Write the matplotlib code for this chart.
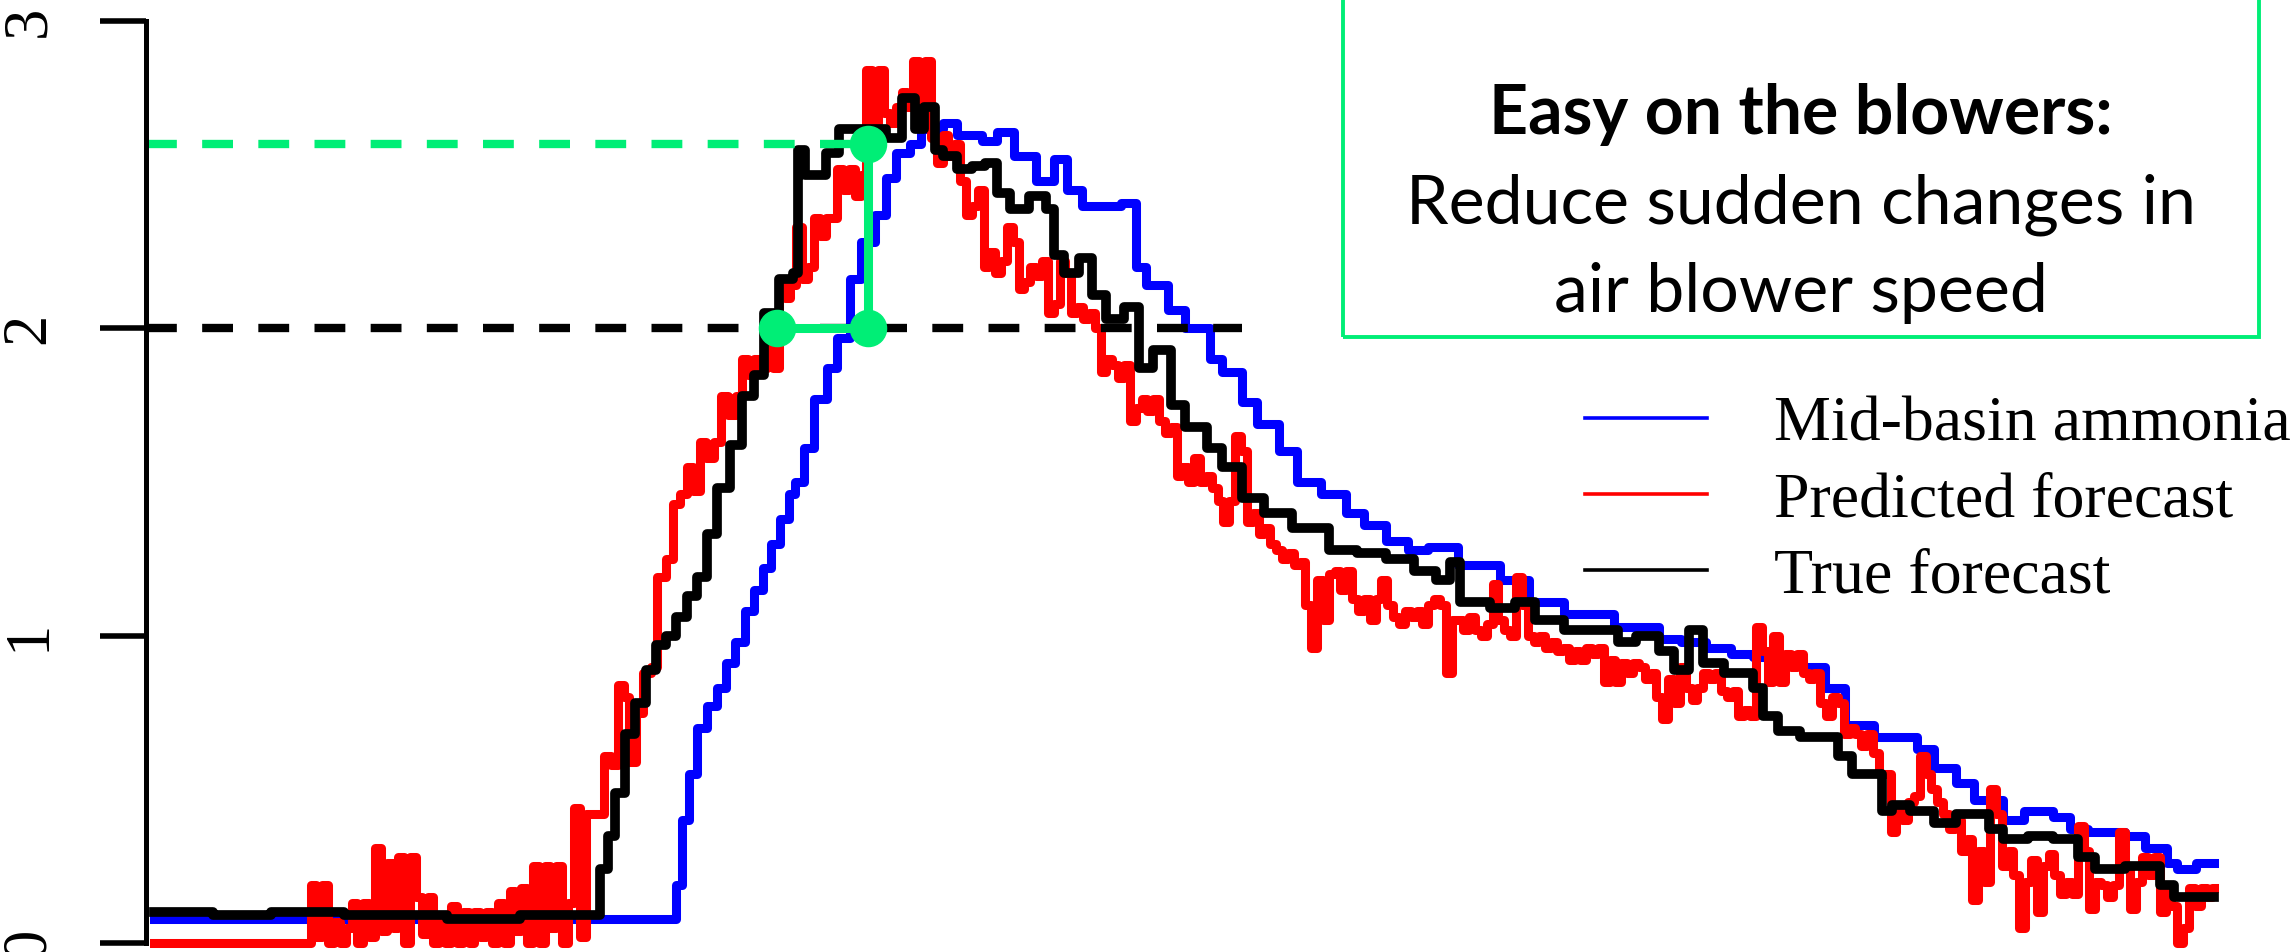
import matplotlib
matplotlib.use("Agg")
import matplotlib.pyplot as plt
from matplotlib.patches import Rectangle

# time index (samples) and ammonia level
blue_t = [0, 354, 357, 361, 366, 371, 378, 385, 391, 397, 404, 410, 416, 422, 428, 434,
          438, 444, 451, 460, 467, 476, 483, 493, 500, 507, 517, 524, 539, 549, 566, 576,
          588, 603, 615, 624, 634, 661, 671, 678, 693, 705, 722, 730, 744, 754, 769, 781,
          798, 815, 827, 842, 857, 871, 891, 920, 940, 964, 998, 1029, 1044, 1061, 1078,
          1093, 1110, 1127, 1142, 1156, 1176, 1205, 1217, 1232, 1244, 1264, 1278, 1298,
          1310, 1322, 1347, 1361, 1376, 1383, 1396, 1408]
blue_v = [0.08, 0.08, 0.19, 0.40, 0.55, 0.70, 0.77, 0.83, 0.91, 0.98, 1.08, 1.15, 1.22,
          1.30, 1.38, 1.46, 1.50, 1.61, 1.77, 1.87, 1.97, 2.16, 2.28, 2.37, 2.49, 2.57,
          2.60, 2.65, 2.67, 2.63, 2.61, 2.64, 2.56, 2.48, 2.55, 2.45, 2.40, 2.41, 2.20,
          2.14, 2.06, 2.00, 1.90, 1.86, 1.76, 1.69, 1.60, 1.50, 1.46, 1.40, 1.36, 1.31,
          1.28, 1.29, 1.23, 1.18, 1.11, 1.07, 1.03, 0.99, 0.98, 0.96, 0.94, 0.93, 0.92,
          0.90, 0.83, 0.71, 0.67, 0.63, 0.57, 0.52, 0.465, 0.40, 0.43, 0.41, 0.37, 0.36,
          0.35, 0.31, 0.26, 0.24, 0.26, 0.26]

black_t = [0, 40, 80, 130, 200, 250, 300, 305, 310, 315, 322, 329, 336, 343, 350, 357,
           364, 371, 378, 385, 394, 402, 410, 417, 427, 437, 440, 445, 459, 468, 500, 511,
           520, 526, 534, 539, 549, 559, 568, 576, 585, 598, 610, 615, 622, 632, 641, 651,
           663, 673, 683, 695, 705, 720, 730, 744, 759, 778, 803, 822, 842, 861, 876, 886,
           893, 913, 930, 944, 964, 1001, 1013, 1029, 1039, 1049, 1059, 1073, 1093, 1100,
           1110, 1125, 1151, 1161, 1181, 1188, 1200, 1217, 1232, 1254, 1264, 1281, 1298,
           1315, 1327, 1347, 1371, 1381, 1408]
black_v = [0.10, 0.09, 0.10, 0.09, 0.08, 0.09, 0.09, 0.24, 0.35, 0.49, 0.68, 0.78, 0.89,
           0.97, 1.00, 1.06, 1.13, 1.19, 1.33, 1.48, 1.62, 1.78, 1.85, 2.05, 2.16, 2.18,
           2.58, 2.50, 2.57, 2.65, 2.62, 2.75, 2.65, 2.72, 2.58, 2.56, 2.52, 2.53, 2.54,
           2.44, 2.39, 2.43, 2.39, 2.24, 2.18, 2.23, 2.11, 2.03, 2.07, 1.87, 1.93, 1.75,
           1.68, 1.61, 1.55, 1.45, 1.40, 1.35, 1.28, 1.27, 1.25, 1.21, 1.18, 1.24, 1.11,
           1.09, 1.11, 1.05, 1.02, 0.98, 1.00, 0.95, 0.89, 1.02, 0.91, 0.88, 0.83, 0.74,
           0.69, 0.67, 0.61, 0.55, 0.43, 0.45, 0.43, 0.39, 0.42, 0.37, 0.34, 0.35, 0.34,
           0.28, 0.24, 0.25, 0.19, 0.15, 0.15]

red_t = [0, 105, 109, 113, 117, 121, 125, 129, 133, 137, 141, 145, 149, 153, 157, 161,
         165, 169, 173, 177, 181, 185, 189, 193, 197, 201, 205, 209, 213, 217, 221, 225,
         229, 233, 237, 241, 245, 249, 253, 257, 261, 265, 269, 273, 277, 281, 285, 289,
         293, 297,
         300, 305, 310, 315, 319, 323, 327, 332, 337, 342, 345, 348, 352, 357, 362, 366, 371,
         375, 380, 385, 390, 395, 400, 404, 408, 412, 417, 421, 425, 429, 433, 437, 441,
         445, 449, 453, 457, 461, 465, 469, 473, 477, 481, 485, 489, 493, 497, 501, 505,
         509, 513, 517, 521, 525, 529, 533, 537, 541, 545, 549, 553, 557, 561, 565, 569,
         573, 577, 581, 585, 589, 593, 597, 601, 605, 609, 613, 617, 621, 625, 629, 633,
         637, 641, 645, 649, 653, 657, 661, 665, 669, 673, 677, 681, 685,
         689, 693, 697, 701, 705, 709, 713, 717, 721, 725, 729, 733, 737, 741, 745, 749,
         753, 757, 761, 765, 769, 773, 777, 781, 785, 789, 793, 797, 801, 805, 809, 813,
         817, 821, 825, 829, 833, 837, 841, 845, 849, 853, 857, 861, 865, 869, 873, 877,
         881, 885, 889, 893, 897, 901, 905, 909, 913, 917, 921, 925, 929, 933, 937, 941,
         945, 949, 953, 957, 961, 965, 969, 973, 977, 981, 985, 989, 993, 997, 1001, 1005,
         1009, 1013, 1017, 1021, 1025,
         1029, 1033, 1037, 1041, 1045, 1049, 1053, 1057, 1061, 1065, 1069, 1073, 1077,
         1081, 1085, 1089, 1093, 1097, 1101, 1105, 1109, 1113, 1117, 1121, 1125, 1129,
         1133, 1137, 1141, 1145, 1149, 1153, 1157, 1161, 1165, 1169, 1173, 1177, 1181,
         1185, 1189, 1193, 1197, 1201, 1205, 1209, 1213, 1217, 1221, 1225, 1229, 1233,
         1237, 1241, 1245, 1249, 1253, 1257, 1261, 1265, 1269, 1273, 1277, 1281, 1285,
         1289, 1293, 1297, 1301, 1305, 1309, 1313, 1317, 1321, 1325, 1329, 1333, 1337,
         1341, 1345, 1349, 1353, 1357, 1361, 1365, 1369, 1373, 1377, 1381, 1385, 1389,
         1393, 1397, 1401, 1405, 1408]
red_v = [0.0, 0.0, 0.19, 0.02, 0.19, 0.0, 0.07, 0.0, 0.05, 0.13, 0.0, 0.13, 0.02, 0.31,
         0.04, 0.26, 0.05, 0.28, 0.0, 0.28, 0.15, 0.03, 0.15, 0.0, 0.07, 0.0, 0.12, 0.0,
         0.10, 0.0, 0.10, 0.02, 0.10, 0.0, 0.13, 0.0, 0.17, 0.04, 0.18, 0.0, 0.25, 0.0,
         0.25, 0.05, 0.25, 0.0, 0.13, 0.44, 0.02, 0.42,
         0.42, 0.42, 0.61, 0.58, 0.84, 0.80, 0.59, 0.75, 0.88, 0.90, 1.19, 1.19, 1.25,
         1.43, 1.46, 1.55, 1.47,
         1.63, 1.58, 1.63, 1.78, 1.72, 1.78, 1.90, 1.85, 1.90, 1.87, 1.95, 1.87, 2.14,
         2.10, 2.14, 2.33, 2.16, 2.20, 2.36, 2.30, 2.36, 2.36, 2.52, 2.45, 2.52, 2.43,
         2.50, 2.84, 2.67, 2.84, 2.70, 2.67, 2.72, 2.77, 2.72, 2.87, 2.70, 2.87, 2.62,
         2.54, 2.63, 2.56, 2.60, 2.48, 2.37, 2.40, 2.45, 2.20, 2.25, 2.18, 2.22, 2.33,
         2.28, 2.13, 2.15, 2.20, 2.17, 2.22, 2.05, 2.08, 2.22, 2.18, 2.05, 2.07, 2.03,
         2.05, 2.00, 1.86, 1.90, 1.88, 1.84, 1.88, 1.70, 1.74, 1.77, 1.73, 1.77,
         1.70, 1.66, 1.68, 1.52, 1.55, 1.50, 1.58, 1.50, 1.52, 1.48, 1.44, 1.37, 1.44,
         1.65, 1.60, 1.37, 1.40, 1.33, 1.35, 1.30, 1.28, 1.25, 1.27, 1.23, 1.24, 1.10,
         0.96, 1.18, 1.05, 1.20, 1.21, 1.15, 1.21, 1.12, 1.08, 1.12, 1.05, 1.12, 1.18,
         1.10, 1.06, 1.04, 1.08, 1.06, 1.08, 1.04, 1.10, 1.12, 1.10, 0.88, 1.05, 1.05,
         1.02, 1.06, 1.02, 1.00, 1.04, 1.17, 1.05, 1.02, 1.00, 1.19, 1.10, 1.00, 0.98,
         1.00, 0.96, 0.98, 0.95, 0.96, 0.92, 0.95, 0.92, 0.96, 0.94, 0.96, 0.85, 0.92,
         0.85, 0.91, 0.88, 0.91, 0.90, 0.86, 0.88,
         0.80, 0.73, 0.86, 0.78, 0.90, 0.83, 0.79, 0.83, 0.88, 0.86, 0.88, 0.82, 0.80,
         0.82, 0.74, 0.76, 0.74, 1.03, 0.95, 0.85, 1.00, 0.85, 0.94, 0.90, 0.94, 0.88,
         0.86, 0.88, 0.78, 0.74, 0.80, 0.78, 0.68, 0.70, 0.68, 0.64, 0.68, 0.62, 0.55,
         0.55, 0.36, 0.45, 0.40, 0.46, 0.48, 0.61, 0.55, 0.50, 0.46, 0.42, 0.37, 0.40,
         0.30, 0.34, 0.14, 0.30, 0.20, 0.50, 0.42, 0.25, 0.30, 0.22, 0.05, 0.20, 0.27,
         0.10, 0.25, 0.29, 0.22, 0.16, 0.20, 0.16, 0.38, 0.30, 0.11, 0.20, 0.19, 0.15,
         0.19, 0.36, 0.25, 0.11, 0.20, 0.28, 0.22, 0.28, 0.10, 0.18, 0.12, 0.0, 0.05,
         0.18, 0.12, 0.18, 0.15, 0.18]

# blower-speed annotation: thresholds and the three green points
target_level = 2.6
alarm_level = 2.0
alarm_end = 744
green_t = [426, 488, 488]
green_v = [2.0, 2.0, 2.6]

labels = ["Mid-basin ammonia", "Predicted forecast", "True forecast"]
green = "#00EE76"

fig = plt.figure(figsize=(22.94, 9.52), dpi=100)
ax = fig.add_axes([0, 0, 1, 1])
ax.patch.set_visible(False)

lb, = ax.plot(blue_t, blue_v, color="#0000FF", lw=6.5, drawstyle="steps-post", label=labels[0])
lr, = ax.plot(red_t, red_v, color="#FF0000", lw=6.5, drawstyle="steps-mid", label=labels[1])
lk, = ax.plot(black_t, black_v, color="black", lw=7, drawstyle="steps-post", label=labels[2])

ax.set_xlim(-105.3, 1462.8)
ax.set_ylim(-0.029, 3.069)
x0 = -5.5
dash = (3.7, 3.04)
ax.plot([x0, green_t[2]], [target_level, target_level], color=green, lw=6, dashes=dash)
ax.plot([x0, alarm_end], [alarm_level, alarm_level], color="black", lw=6, dashes=dash)
ax.plot(green_t, green_v, color=green, lw=6.5, marker="o", ms=26, zorder=5)

# axes: only the left axis, R style
for s in ["top", "right", "bottom"]:
    ax.spines[s].set_visible(False)
ax.spines["left"].set_position(("data", x0))
ax.spines["left"].set_bounds(0, 3)
ax.spines["left"].set_linewidth(3.6)
ax.set_xticks([])
ax.set_yticks([0, 1, 2, 3])
ax.tick_params(axis="y", length=33, width=4, pad=30, labelsize=45, labelrotation=90)
for t in ax.get_yticklabels():
    t.set_family("Liberation Serif")
    t.set_va("center")

leg = ax.legend(handles=[lb, lr, lk], loc="upper left", bbox_to_anchor=(0.691, 0.584),
                bbox_transform=fig.transFigure, frameon=False, borderpad=0, borderaxespad=0,
                handlelength=1.9, handletextpad=1.05, labelspacing=0.27,
                prop={"family": "Liberation Serif", "size": 46})
for h in leg.get_lines():
    h.set_linewidth(2.6)

# green call-out box, its top runs off the figure
fig.patches.append(Rectangle((1343 / 2294, 1 - 337 / 952), (2259 - 1343) / 2294, 0.8,
                             transform=fig.transFigure, fill=False, edgecolor=green, lw=2.8))
cx = 1801 / 2294
fig.text(cx, 1 - 134 / 952, "Easy on the blowers:", ha="center", va="baseline",
         family="Lato", weight="bold", size=49)
fig.text(cx, 1 - 223 / 952, "Reduce sudden changes in", ha="center", va="baseline",
         family="Lato", size=49)
fig.text(cx, 1 - 312 / 952, "air blower speed", ha="center", va="baseline",
         family="Lato", size=49)

fig.savefig("out.png", dpi=100)
